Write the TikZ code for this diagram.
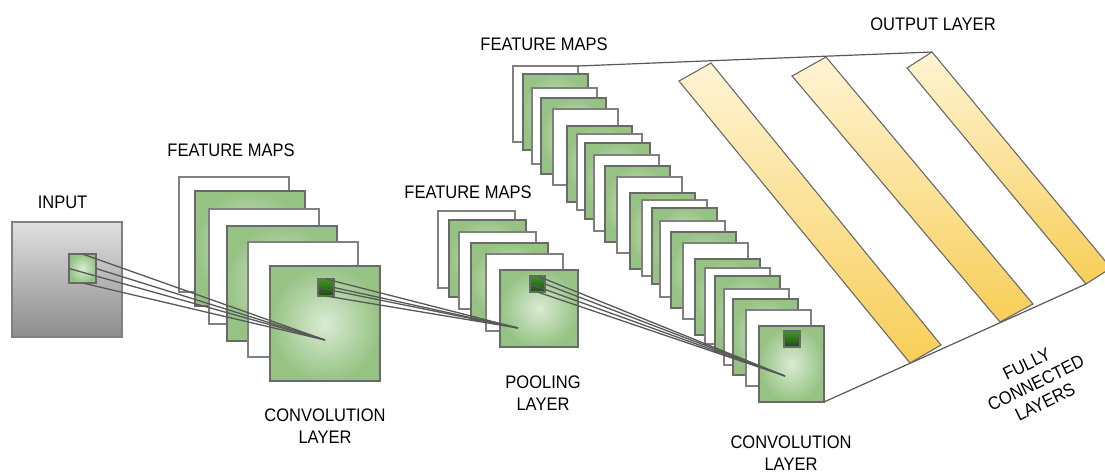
\documentclass[tikz,border=0pt]{standalone}
\usepackage{fontspec}
\setmainfont{Liberation Sans}
\definecolor{gedge}{RGB}{105,105,105}
\definecolor{wedge}{RGB}{128,128,128}
\definecolor{gin}{RGB}{218,235,211}
\definecolor{gout}{RGB}{150,195,132}
\definecolor{dtop}{RGB}{62,150,40}
\definecolor{dbot}{RGB}{26,76,16}
\definecolor{intop}{RGB}{224,224,224}
\definecolor{inbot}{RGB}{140,140,140}
\definecolor{ytop}{RGB}{255,244,212}
\definecolor{ymid}{RGB}{252,224,146}
\definecolor{ybot}{RGB}{248,206,88}
\definecolor{lnk}{RGB}{88,88,88}
\newcommand\tx[1]{\scalebox{1}[1.1]{#1}}
\begin{document}
\begin{tikzpicture}[
  x=1pt, y=-1pt,
  mapbase/.style={line width=1.1pt, inner sep=0pt, outer sep=0pt, anchor=north west},
  wmap/.style={mapbase, draw=wedge, fill=white},
  gmap/.style={mapbase, draw=gedge, inner color=gin, outer color=gout},
  dsq/.style={mapbase, draw=gedge, top color=dtop, bottom color=dbot},
  big/.style={minimum width=110pt, minimum height=115pt},
  mid/.style={minimum width=77pt, minimum height=77pt},
  sml/.style={minimum width=65pt, minimum height=76pt},
  link/.style={draw=lnk, line width=1.3pt},
  frame/.style={draw=lnk, line width=1.2pt},
  bar/.style={draw=gedge, line width=1.1pt, top color=ytop, middle color=ymid, bottom color=ybot},
  lbl/.style={font=\fontsize{16.5}{22}\selectfont, align=center, text=black, inner sep=0pt}
]
\useasboundingbox (0,0) rectangle (1105,475);
\clip (0,0) rectangle (1105,475);

% input
\node[mapbase, draw=wedge, top color=intop, bottom color=inbot, minimum width=110pt, minimum height=115pt] (inp) at (12,222) {};
\node[mapbase, draw=gedge, inner color=gin, outer color=gout, minimum width=27pt, minimum height=29pt] (insq) at (69,254) {};

% first feature maps
\node[wmap, big] (a1) at (179,177) {};
\node[gmap, big] (a2) at (195,191) {};
\node[wmap, big] (a3) at (209,209) {};
\node[gmap, big] (a4) at (227,226) {};
\node[wmap, big] (a5) at (248,242) {};
\node[gmap, big] (a6) at (270,266) {};
\node[dsq, minimum width=16pt, minimum height=17pt] (asq) at (318,279) {};
\coordinate (c1) at (325,340);

% pooling feature maps
\node[wmap, mid] (b1) at (438,211) {};
\node[gmap, mid] (b2) at (449,220) {};
\node[wmap, mid] (b3) at (459,232) {};
\node[gmap, mid] (b4) at (471,243) {};
\node[wmap, mid] (b5) at (486,254) {};
\node[gmap, mid, minimum width=78pt] (b6) at (500,270) {};
\node[dsq, minimum width=15pt, minimum height=16pt] (bsq) at (530,276) {};
\coordinate (c2) at (518,328);

% second convolution feature maps
\node[wmap, sml] (d1) at (513,66) {};
\node[gmap, sml] (d2) at (523,74) {};
\node[wmap, sml] (d3) at (532,88) {};
\node[gmap, sml] (d4) at (541,98) {};
\node[wmap, sml] (d5) at (553,109) {};
\node[gmap, sml] (d6) at (567,126) {};
\node[wmap, sml] (d7) at (577,134) {};
\node[gmap, sml] (d8) at (585,143) {};
\node[wmap, sml] (d9) at (594,155) {};
\node[gmap, sml] (d10) at (605,166) {};
\node[wmap, sml] (d11) at (617,177) {};
\node[gmap, sml] (d12) at (630,193) {};
\node[wmap, sml] (d13) at (642,200) {};
\node[gmap, sml] (d14) at (652,208) {};
\node[wmap, sml] (d15) at (660,221) {};
\node[gmap, sml] (d16) at (671,232) {};
\node[wmap, sml] (d17) at (683,243) {};
\node[gmap, sml] (d18) at (695,259) {};
\node[wmap, sml] (d19) at (705,268) {};
\node[gmap, sml] (d20) at (715,276) {};
\node[wmap, sml] (d21) at (724,289) {};
\node[gmap, sml] (d22) at (733,299) {};
\node[wmap, sml] (d23) at (746,310) {};
\node[gmap, sml] (d24) at (759,326) {};
\node[dsq, minimum width=16pt, minimum height=16pt] (dsq) at (784,331) {};
\coordinate (c3) at (785,376);

% fully connected
\coordinate (ft) at (932,52);
\coordinate (fb) at (1086,284);
\draw[frame] (d1.north east) -- (ft);
\draw[frame] (d24.south east) -- (fb);
\shade[bar] (679,81) -- (711,63) -- (941,345) -- (910,363) -- cycle;
\shade[bar] (792,76) -- (826,57) -- (1033,304) -- (1000,322) -- cycle;
\shade[bar] (907,68) -- (932,52) -- (1111,268) -- (1086,284) -- cycle;

% connectors
\foreach \a in {north,west,east,south} {
  \draw[link] (insq.\a) -- (c1);
  \draw[link] (asq.\a) -- (c2);
  \draw[link] (bsq.\a) -- (c3);
}

% labels
\node[lbl] (t1) at (62.5,202) {\tx{INPUT}};
\node[lbl] (t2) at (231,150) {\tx{FEATURE MAPS}};
\node[lbl] (t3) at (468,192) {\tx{FEATURE MAPS}};
\node[lbl] (t4) at (544,44) {\tx{FEATURE MAPS}};
\node[lbl] (t5) at (933,24) {\tx{OUTPUT LAYER}};
\node[lbl] (t6) at (325,426) {\tx{CONVOLUTION}\\\tx{LAYER}};
\node[lbl] (t7) at (543,393.5) {\tx{POOLING}\\\tx{LAYER}};
\node[lbl] (t8) at (791,453) {\tx{CONVOLUTION}\\\tx{LAYER}};
\node[lbl, rotate=26, font=\fontsize{16.5}{21}\selectfont] (t9) at (1036,383) {\tx{FULLY}\\\tx{CONNECTED}\\\tx{LAYERS}};
\end{tikzpicture}
\end{document}
